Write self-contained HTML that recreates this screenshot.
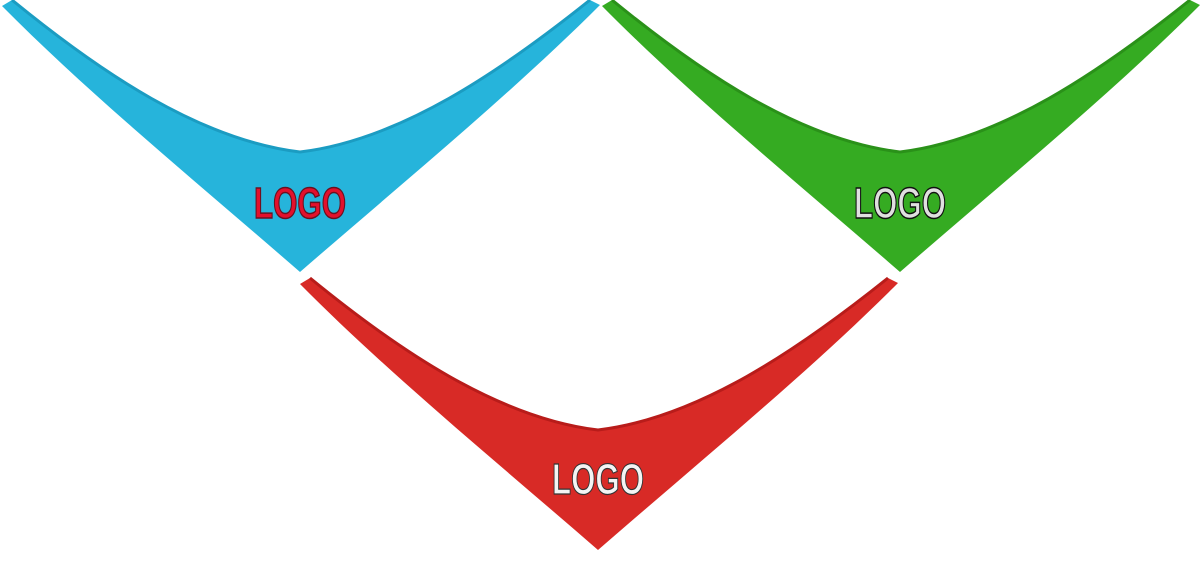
<!DOCTYPE html>
<html><head><meta charset="utf-8"><style>
html,body{margin:0;padding:0;background:#fff;width:1200px;height:563px;overflow:hidden}
</style></head><body>
<svg width="1200" height="563" viewBox="0 0 1200 563" xmlns="http://www.w3.org/2000/svg">
<defs>
<path id="b" d="M2,6 L12,0 C100,72 200,140 300,152 C400,140 500,72 590,0 L600,5 C510,95 400,185 300,272 C200,185 90,95 2,6 Z"/>
<path id="h" d="M12,0 C100,72 200,140 300,152 C400,140 500,72 590,0" fill="none" stroke-width="3"/>
</defs>
<g>
<use href="#b" fill="#26b4db"/>
<use href="#h" stroke="#1b9cc2"/>
<text x="300" y="218" text-anchor="middle" font-family="Liberation Sans, sans-serif" font-size="44" font-weight="bold" fill="#e3102c" stroke="#6a1020" stroke-width="1.5" textLength="92" lengthAdjust="spacingAndGlyphs">LOGO</text>
</g>
<g transform="translate(600,0)">
<use href="#b" fill="#35ab22"/>
<use href="#h" stroke="#2a9119"/>
<text x="300" y="218" text-anchor="middle" font-family="Liberation Sans, sans-serif" font-size="44" font-weight="bold" fill="#e0e0e0" stroke="#111" stroke-width="1.5" textLength="92" lengthAdjust="spacingAndGlyphs">LOGO</text>
</g>
<g transform="translate(298,278)">
<use href="#b" fill="#d82a26"/>
<use href="#h" stroke="#b81c1a"/>
<text x="300" y="216" text-anchor="middle" font-family="Liberation Sans, sans-serif" font-size="44" font-weight="bold" fill="#f4f4f4" stroke="#333" stroke-width="1.2" textLength="92" lengthAdjust="spacingAndGlyphs">LOGO</text>
</g>
</svg>
</body></html>
